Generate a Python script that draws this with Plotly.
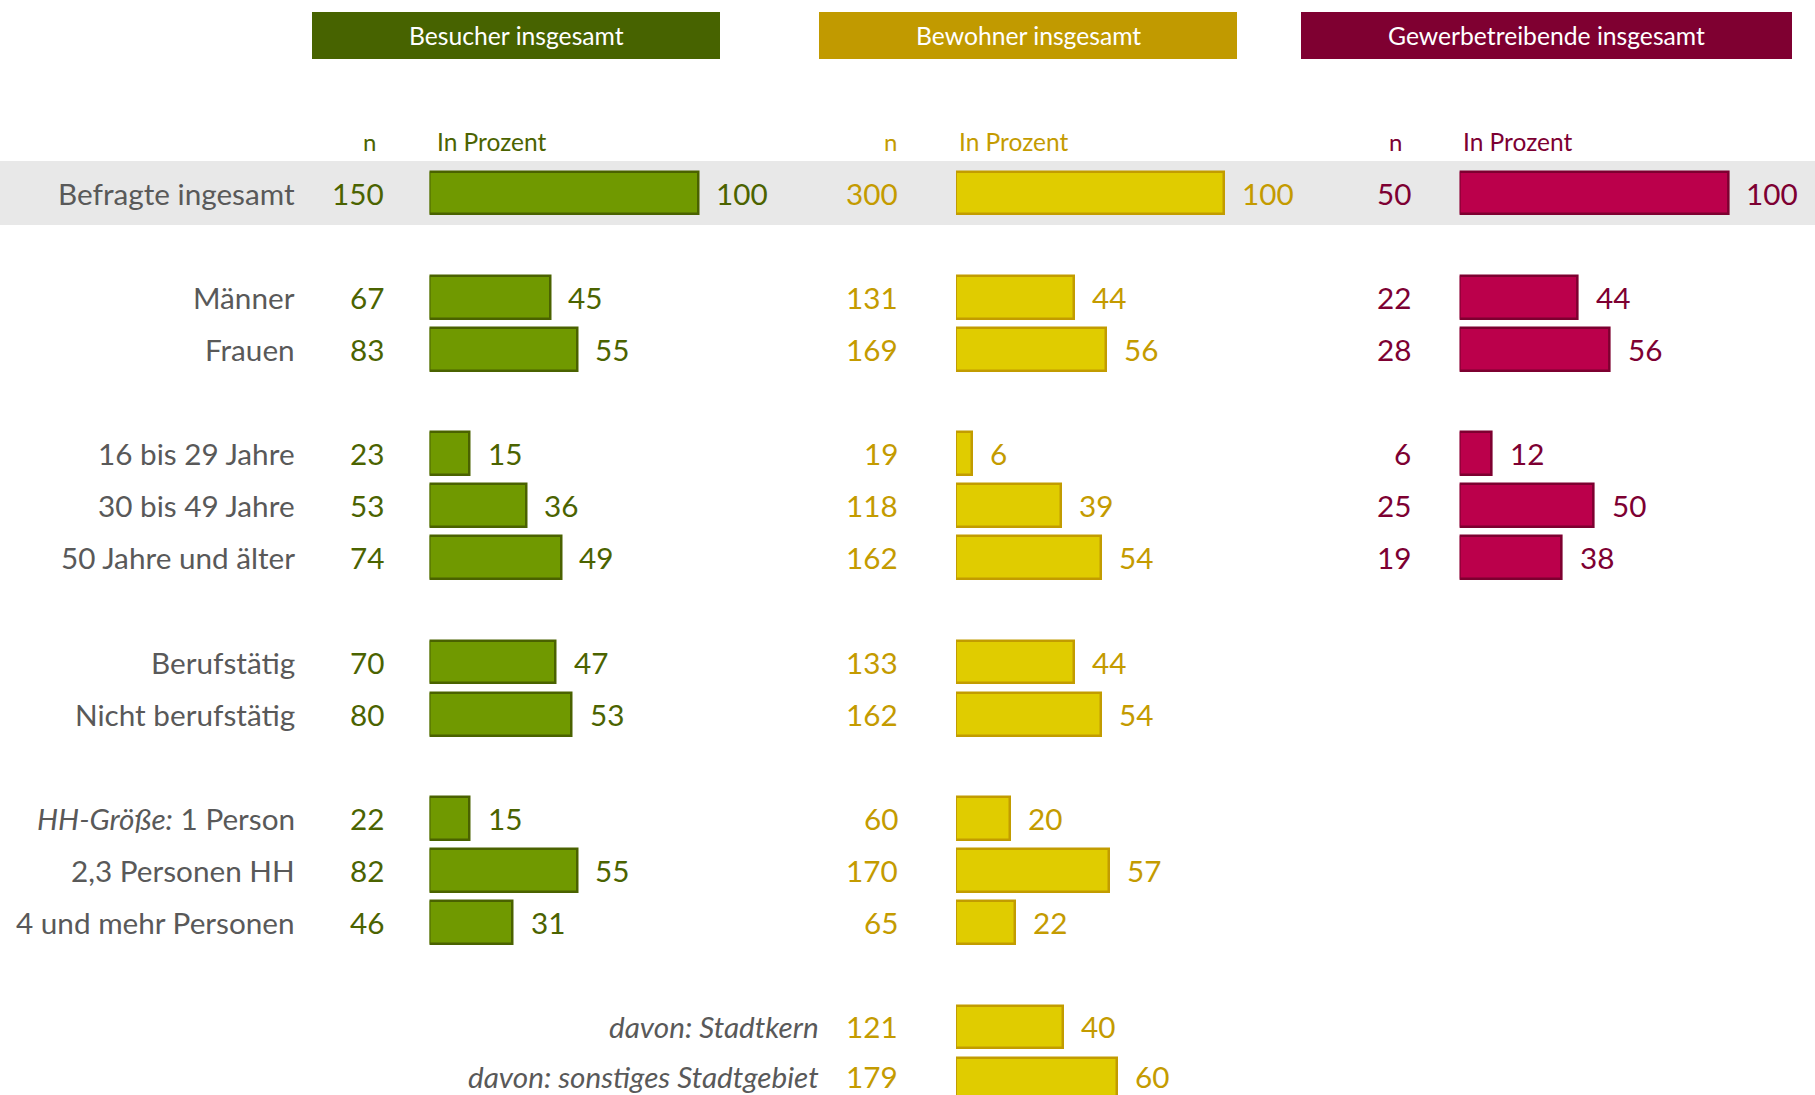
import plotly.graph_objects as go

# ---- data ----
labels = ["Befragte ingesamt", "Männer", "Frauen", "16 bis 29 Jahre", "30 bis 49 Jahre",
          "50 Jahre und älter", "Berufstätig", "Nicht berufstätig",
          "<i>HH-Größe:</i> 1 Person", "2,3 Personen HH", "4 und mehr Personen",
          "<i>davon: Stadtkern</i>", "<i>davon: sonstiges Stadtgebiet</i>"]
rows = [0, 2, 3, 5, 6, 7, 9, 10, 12, 13, 14, 16, 17]

besucher_n = [150, 67, 83, 23, 53, 74, 70, 80, 22, 82, 46, None, None]
besucher_pct = [100, 45, 55, 15, 36, 49, 47, 53, 15, 55, 31, None, None]
bewohner_n = [300, 131, 169, 19, 118, 162, 133, 162, 60, 170, 65, 121, 179]
bewohner_pct = [100, 44, 56, 6, 39, 54, 44, 54, 20, 57, 22, 40, 60]
gewerbe_n = [50, 22, 28, 6, 25, 19, None, None, None, None, None, None, None]
gewerbe_pct = [100, 44, 56, 12, 50, 38, None, None, None, None, None, None, None]

W, H = 1815, 1095
FONT = "Lato, Roboto, sans-serif"
FS = 29.7
GRAY = "#595959"
LAST = rows[-1]

panels = [
    dict(title="Besucher insgesamt", n=besucher_n, pct=besucher_pct, ax="x",
         fill="#709900", line="#4a6200", head="#476300", txt="#4b6300",
         box=(312, 720), dom=(429.5, 778.6), ncol=385.5, nhead=369, phead=435),
    dict(title="Bewohner insgesamt", n=bewohner_n, pct=bewohner_pct, ax="x2",
         fill="#e0cc00", line="#c29c00", head="#c19a00", txt="#c49b00",
         box=(819, 1237), dom=(956, 1305), ncol=899.5, nhead=890, phead=957),
    dict(title="Gewerbetreibende insgesamt", n=gewerbe_n, pct=gewerbe_pct, ax="x3",
         fill="#bb004b", line="#7d0030", head="#7f0031", txt="#7d0032",
         box=(1301, 1792), dom=(1459.6, 1808.7), ncol=1412.5, nhead=1395, phead=1461),
]

fig = go.Figure()
ann = []
shapes = []

# gray band behind the total row
shapes.append(dict(type="rect", xref="paper", yref="y", x0=0, x1=1, y0=-0.615, y1=0.615,
                   fillcolor="#e8e8e8", line_width=0, layer="below"))

for i, p in enumerate(panels):
    ys = [r for r, v in zip(rows, p["pct"]) if v is not None]
    xs = [v for v in p["pct"] if v is not None]
    fig.add_trace(go.Bar(x=xs, y=ys, orientation="h", width=0.82, xaxis=p["ax"], yaxis="y",
                         marker=dict(color=p["fill"], line=dict(color=p["line"], width=2.5)),
                         showlegend=False, hoverinfo="skip"))
    for r, v in zip(ys, xs):
        ann.append(dict(xref=p["ax"], yref="y", x=v, y=r, text=str(v), showarrow=False,
                        xanchor="left", yanchor="middle", xshift=16,
                        yshift=3 if r == LAST else 0,
                        font=dict(family=FONT, size=FS, color=p["txt"])))
    for r, n in zip(rows, p["n"]):
        if n is None:
            continue
        ann.append(dict(xref="paper", yref="y", x=p["ncol"] / W, y=r, text=str(n), showarrow=False,
                        xanchor="right", yanchor="middle", yshift=3 if r == LAST else 0,
                        font=dict(family=FONT, size=FS, color=p["txt"])))
    # header box
    x0, x1 = p["box"]
    shapes.append(dict(type="rect", xref="paper", yref="paper", x0=x0 / W, x1=x1 / W,
                       y0=1 - 59 / H, y1=1 - 12 / H, fillcolor=p["head"], line_width=0))
    ann.append(dict(xref="paper", yref="paper", x=(x0 + x1) / 2 / W, y=1 - 35.5 / H,
                    text=p["title"], showarrow=False, xanchor="center", yanchor="middle",
                    font=dict(family=FONT, size=24.7, color="white")))
    ann.append(dict(xref="paper", yref="paper", x=p["nhead"] / W, y=1 - 141 / H, text="n",
                    showarrow=False, xanchor="center", yanchor="middle",
                    font=dict(family=FONT, size=24, color=p["txt"])))
    ann.append(dict(xref="paper", yref="paper", x=p["phead"] / W, y=1 - 141 / H, text="In Prozent",
                    showarrow=False, xanchor="left", yanchor="middle",
                    font=dict(family=FONT, size=24.5, color=p["txt"])))

# row labels
for r, lab in zip(rows, labels):
    xr = 820.5 if lab.startswith("<i>davon") else 296.5
    ann.append(dict(xref="paper", yref="y", x=xr / W, y=r, text=lab, showarrow=False,
                    xanchor="right", yanchor="middle", yshift=3 if r == LAST else 0,
                    font=dict(family=FONT, size=FS, color=GRAY)))

axis_off = dict(showgrid=False, zeroline=False, showticklabels=False, showline=False,
                range=[0, 130], fixedrange=True)
layout = dict(
    width=W, height=H, margin=dict(l=0, r=0, t=0, b=0),
    paper_bgcolor="white", plot_bgcolor="rgba(0,0,0,0)",
    bargap=0, annotations=ann, shapes=shapes,
    yaxis=dict(range=[17.306, -3.703], domain=[0, 1], showgrid=False, zeroline=False,
               showticklabels=False, anchor="x", fixedrange=True),
)
for p in panels:
    key = "xaxis" if p["ax"] == "x" else "xaxis" + p["ax"][1:]
    d = dict(axis_off, domain=[p["dom"][0] / W, p["dom"][1] / W], anchor="y")
    layout[key] = d
fig.update_layout(**layout)

fig.write_html("out.html", config={"displayModeBar": False},
               post_script="document.body.style.margin='0';")
